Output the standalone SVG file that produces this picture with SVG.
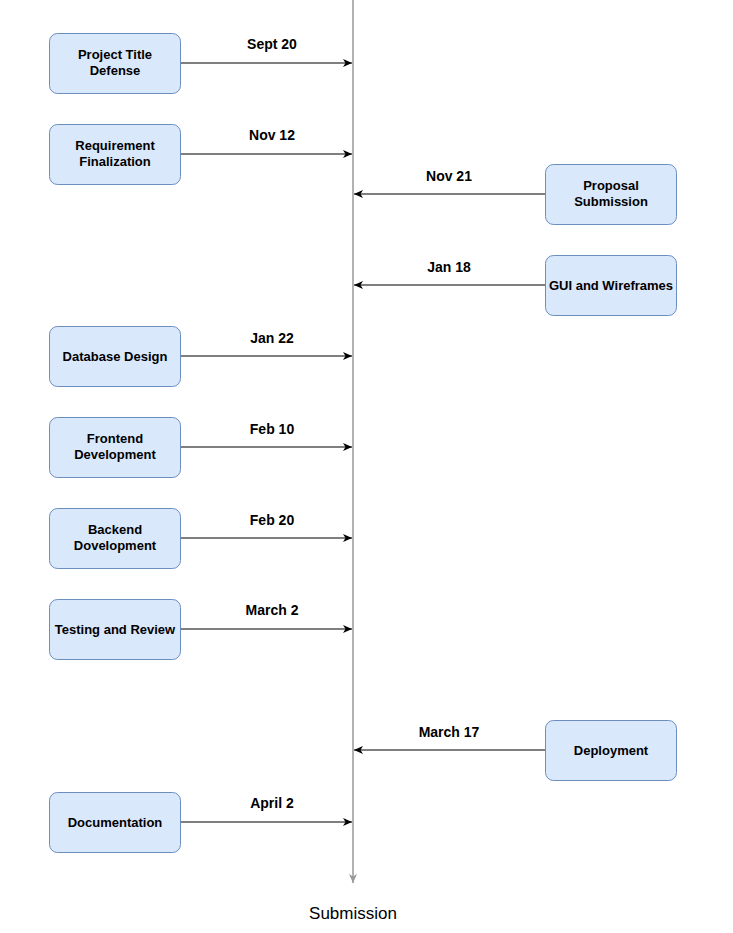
<svg xmlns="http://www.w3.org/2000/svg" width="733" height="933" viewBox="0 0 733 933">
<defs>
<style>
.box{fill:#dae8fc;stroke:#6c8ebf;stroke-width:1}
.nt{font-family:"Liberation Sans",Arial,sans-serif;font-size:13px;font-weight:bold;fill:#000;text-anchor:middle}
.dt{font-family:"Liberation Sans",Arial,sans-serif;font-size:14px;font-weight:bold;fill:#000;text-anchor:middle}
.ar{stroke:#000;stroke-width:1.2;fill:none;marker-end:url(#ah)}
</style>
<marker id="ah" markerWidth="12" markerHeight="12" refX="10" refY="6" orient="auto" markerUnits="userSpaceOnUse">
<path d="M1,2 L10,6 L1,10 L3.5,6 Z" fill="#000"/>
</marker>
<marker id="ahg" markerWidth="12" markerHeight="12" refX="10" refY="6" orient="auto" markerUnits="userSpaceOnUse">
<path d="M1,2 L10,6 L1,10 L3.5,6 Z" fill="#999"/>
</marker>
</defs>
<rect width="733" height="933" fill="#fff"/>
<g id="timeline">
<line x1="353" y1="0" x2="353" y2="883" stroke="#999" stroke-width="1.5" marker-end="url(#ahg)"/>
<text x="353" y="919" font-family="'Liberation Sans',Arial,sans-serif" font-size="17" text-anchor="middle" fill="#000">Submission</text>
</g>
<g id="connectors">
<path class="ar" d="M181,63 H352"/>
<path class="ar" d="M181,154 H352"/>
<path class="ar" d="M545,194 H354"/>
<path class="ar" d="M545,285 H354"/>
<path class="ar" d="M181,356 H352"/>
<path class="ar" d="M181,447 H352"/>
<path class="ar" d="M181,538 H352"/>
<path class="ar" d="M181,629 H352"/>
<path class="ar" d="M545,750 H354"/>
<path class="ar" d="M181,822 H352"/>
<text class="dt" x="272" y="49">Sept 20</text>
<text class="dt" x="272" y="140">Nov 12</text>
<text class="dt" x="449" y="181">Nov 21</text>
<text class="dt" x="449" y="272">Jan 18</text>
<text class="dt" x="272" y="343">Jan 22</text>
<text class="dt" x="272" y="434">Feb 10</text>
<text class="dt" x="272" y="525">Feb 20</text>
<text class="dt" x="272" y="615">March 2</text>
<text class="dt" x="449" y="737">March 17</text>
<text class="dt" x="272" y="808">April 2</text>
</g>
<g id="n1"><rect class="box" x="49.5" y="33.5" width="131" height="60" rx="8"/><text class="nt" x="115" y="59">Project Title</text><text class="nt" x="115" y="75">Defense</text></g>
<g id="n2"><rect class="box" x="49.5" y="124.5" width="131" height="60" rx="8"/><text class="nt" x="115" y="150">Requirement</text><text class="nt" x="115" y="166">Finalization</text></g>
<g id="n3"><rect class="box" x="545.5" y="164.5" width="131" height="60" rx="8"/><text class="nt" x="611" y="190">Proposal</text><text class="nt" x="611" y="206">Submission</text></g>
<g id="n4"><rect class="box" x="545.5" y="255.5" width="131" height="60" rx="8"/><text class="nt" x="611" y="290">GUI and Wireframes</text></g>
<g id="n5"><rect class="box" x="49.5" y="326.5" width="131" height="60" rx="8"/><text class="nt" x="115" y="361">Database Design</text></g>
<g id="n6"><rect class="box" x="49.5" y="417.5" width="131" height="60" rx="8"/><text class="nt" x="115" y="443">Frontend</text><text class="nt" x="115" y="459">Development</text></g>
<g id="n7"><rect class="box" x="49.5" y="508.5" width="131" height="60" rx="8"/><text class="nt" x="115" y="534">Backend</text><text class="nt" x="115" y="550">Dovelopment</text></g>
<g id="n8"><rect class="box" x="49.5" y="599.5" width="131" height="60" rx="8"/><text class="nt" x="115" y="634">Testing and Review</text></g>
<g id="n9"><rect class="box" x="545.5" y="720.5" width="131" height="60" rx="8"/><text class="nt" x="611" y="755">Deployment</text></g>
<g id="n10"><rect class="box" x="49.5" y="792.5" width="131" height="60" rx="8"/><text class="nt" x="115" y="827">Documentation</text></g>
</svg>
